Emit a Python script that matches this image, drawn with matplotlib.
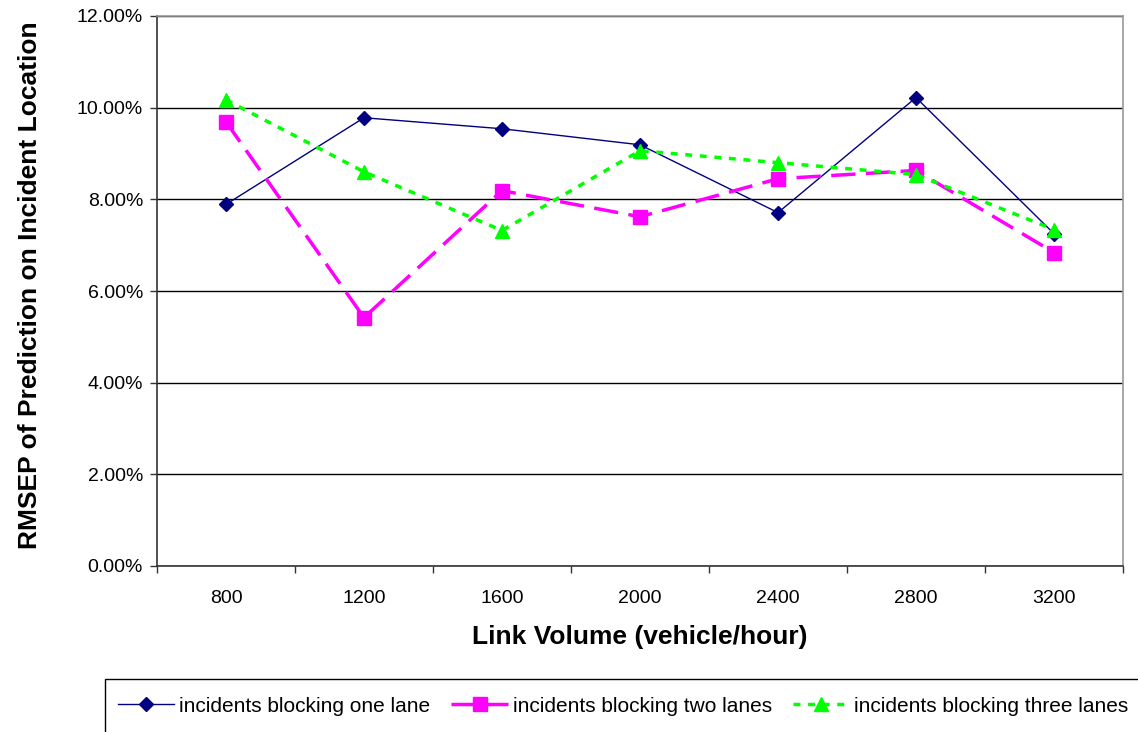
import matplotlib
matplotlib.use("Agg")
import matplotlib.pyplot as plt
from matplotlib.patches import Rectangle
from matplotlib.ticker import FuncFormatter, FixedLocator

plt.rcParams['font.family'] = ['Liberation Sans', 'DejaVu Sans']

volumes = ["800", "1200", "1600", "2000", "2400", "2800", "3200"]
one_lane = [7.89, 9.78, 9.54, 9.19, 7.71, 10.22, 7.25]
two_lanes = [9.69, 5.42, 8.19, 7.62, 8.45, 8.63, 6.84]
three_lanes = [10.17, 8.60, 7.32, 9.06, 8.80, 8.54, 7.34]

W, H = 1138, 732
fig = plt.figure(figsize=(W / 100, H / 100), dpi=100)
ax = fig.add_axes([157 / W, 1 - 566 / H, (1123 - 157) / W, (566 - 16) / H])

x = list(range(len(volumes)))

ax.plot(x, one_lane, color="#000080", lw=1.0, marker="D", ms=7.5,
        mfc="#000080", mec="#000080", label="incidents blocking one lane", zorder=3)
ax.plot(x, two_lanes, color="#FF00FF", lw=2.5, dashes=(7, 3), marker="s", ms=10,
        mfc="#FF00FF", mec="#FF00FF", label="incidents blocking two lanes", zorder=3)
ax.plot(x, three_lanes, color="#00FF00", lw=2.5, dashes=(2, 2.2), marker="^", ms=10,
        mfc="#00FF00", mec="#00FF00", label="incidents blocking three lanes", zorder=4)

ax.set_xlim(-0.5, len(volumes) - 0.5)
ax.set_ylim(0, 12)
ax.set_yticks([0, 2, 4, 6, 8, 10, 12])
ax.yaxis.set_major_formatter(FuncFormatter(lambda v, p: f"{v:.2f}%"))
ax.grid(axis="y", color="black", lw=1.0)
ax.set_axisbelow(True)

ax.set_xticks(x)
ax.set_xticklabels(volumes)
ax.xaxis.set_minor_locator(FixedLocator([i - 0.5 for i in range(len(volumes) + 1)]))
ax.tick_params(axis="x", which="major", length=0, pad=17, labelsize=14)
ax.tick_params(axis="x", which="minor", length=5, width=1, color="#333333", direction="out")
ax.tick_params(axis="y", length=5, width=1, color="#333333", pad=5, labelsize=14)

for side in ("left", "bottom"):
    ax.spines[side].set_color("#333333")
    ax.spines[side].set_linewidth(1.2)
for side in ("top", "right"):
    ax.spines[side].set_color("#999999")
    ax.spines[side].set_linewidth(1.2)

ax.set_xlabel("Link Volume (vehicle/hour)", fontsize=19, fontweight="bold", labelpad=13)
fig.text(30 / W, 1 - 285 / H, "RMSEP of Prediction on Incident Location",
         rotation=90, fontsize=19, fontweight="bold", ha="center", va="center")

# legend box running off the right and bottom edges of the figure
fig.patches.append(Rectangle((105 / W, -0.01), 1.1 - 105 / W, 0.01 + (H - 679) / H,
                             transform=fig.transFigure, fill=False,
                             edgecolor="black", lw=1.0))
leg = fig.legend(loc="center left", bbox_to_anchor=(118 / W, 1 - 706 / H),
                 ncol=3, fontsize=15, frameon=False,
                 handlelength=2.7, handletextpad=0.25, columnspacing=1.0,
                 borderpad=0, borderaxespad=0)

fig.savefig("out.png", dpi=100)
